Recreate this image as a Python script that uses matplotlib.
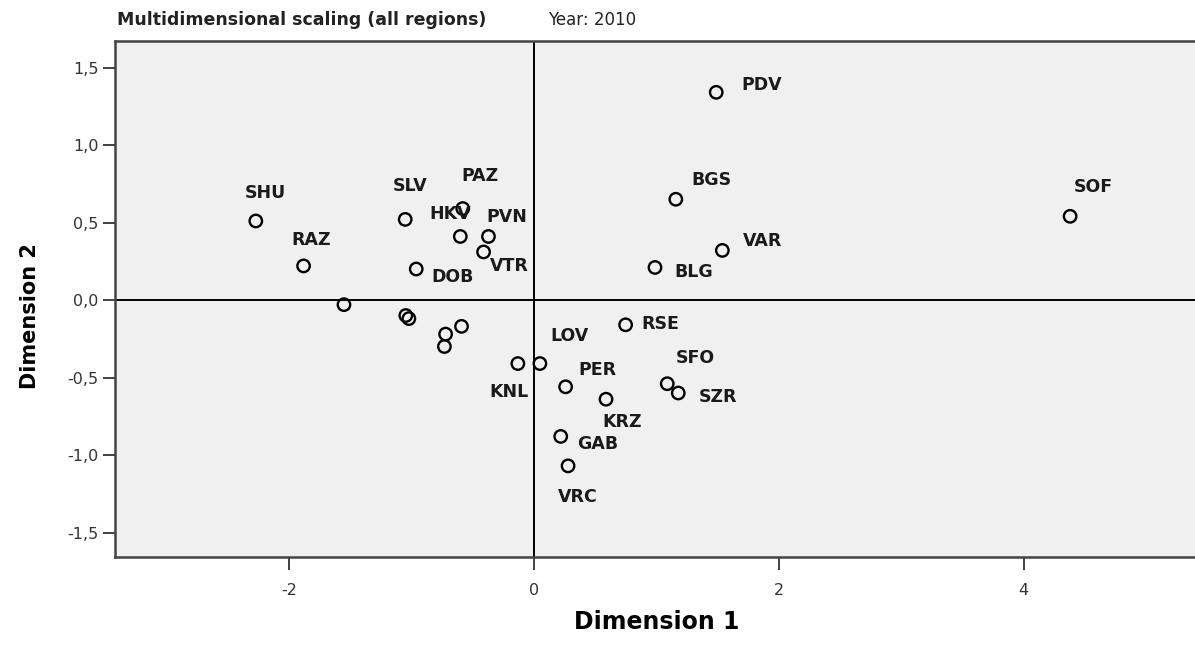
import matplotlib
matplotlib.use("Agg")
import matplotlib.pyplot as plt
from matplotlib.ticker import FuncFormatter

# MDS coordinates of the regions
regions = ["SHU", "RAZ", "", "SLV", "", "", "DOB", "PAZ", "HKV", "PVN", "VTR",
           "", "", "", "KNL", "LOV", "PER", "KRZ", "GAB", "VRC", "RSE",
           "SFO", "SZR", "BLG", "VAR", "BGS", "PDV", "SOF"]
dim1 = [-2.27, -1.88, -1.55, -1.05, -1.045, -1.02, -0.96, -0.58, -0.60, -0.37, -0.41,
        -0.72, -0.73, -0.59, -0.13, 0.05, 0.26, 0.59, 0.22, 0.28, 0.75,
        1.09, 1.18, 0.99, 1.54, 1.16, 1.49, 4.38]
dim2 = [0.51, 0.22, -0.03, 0.52, -0.10, -0.12, 0.20, 0.59, 0.41, 0.41, 0.31,
        -0.22, -0.30, -0.17, -0.41, -0.41, -0.56, -0.64, -0.88, -1.07, -0.16,
        -0.54, -0.60, 0.21, 0.32, 0.65, 1.34, 0.54]

xticks = [-2, 0, 2, 4]
yticks = [-1.5, -1.0, -0.5, 0.0, 0.5, 1.0, 1.5]

# label placement (pixels from the marker, y down)
offsets = {
    "SHU": (10, -28), "RAZ": (8, -26), "SLV": (5, -33), "PAZ": (17, -33),
    "PVN": (18, -19), "HKV": (-10, -22), "DOB": (36, 8), "VTR": (26, 14),
    "PDV": (45, -7), "BGS": (36, -19), "VAR": (40, -9), "BLG": (39, 5),
    "SOF": (23, -29), "RSE": (35, -1), "LOV": (30, -28), "PER": (32, -17),
    "KNL": (-9, 28), "SFO": (28, -26), "SZR": (40, 4), "KRZ": (16, 23),
    "GAB": (37, 8), "VRC": (10, 31),
}

W, H = 1195, 652
fig = plt.figure(figsize=(W / 100, H / 100), dpi=100)
ax = fig.add_axes([115 / W, 1 - 557 / H, (W - 115) / W, (557 - 41) / H])
ax.set_facecolor("#f0f0f0")

ax.axhline(0, color="black", lw=1.4, zorder=1)
ax.axvline(0, color="black", lw=1.4, zorder=1)

ax.scatter(dim1, dim2, s=80, facecolors="none", edgecolors="black",
           linewidths=1.7, zorder=3)

for name, x, y in zip(regions, dim1, dim2):
    if not name:
        continue
    dx, dy = offsets[name]
    ax.annotate(name, (x, y), xytext=(dx * 0.72, -dy * 0.72),
                textcoords="offset points", ha="center", va="center",
                fontsize=12.5, fontweight="bold", color="#1a1a1a",
                family="DejaVu Sans", zorder=4)

ax.set_xlim(-3.42, 5.40)
ax.set_ylim(-1.658, 1.671)
ax.set_xticks(xticks)
ax.set_yticks(yticks)
ax.xaxis.set_major_formatter(FuncFormatter(lambda v, p: "%d" % v))
ax.yaxis.set_major_formatter(FuncFormatter(lambda v, p: ("%.1f" % v).replace(".", ",")))
ax.tick_params(axis="both", direction="out", length=9, width=1.3,
               color="#333333", labelsize=11.5, labelcolor="#333333")
ax.tick_params(axis="x", pad=10)
ax.tick_params(axis="y", pad=3)

for side in ["left", "bottom", "top"]:
    ax.spines[side].set_color("#444444")
    ax.spines[side].set_linewidth(1.8)
ax.spines["right"].set_visible(False)

fig.text(117 / W, 1 - 20 / H, "Multidimensional scaling (all regions)",
         fontsize=12.5, fontweight="bold", color="#222222", va="center", ha="left")
fig.text(548 / W, 1 - 20 / H, "Year: 2010", fontsize=12, color="#222222",
         va="center", ha="left")
fig.text(657 / W, 1 - 622 / H, "Dimension 1", fontsize=17, fontweight="bold",
         ha="center", va="center")
fig.text(30 / W, 1 - 316 / H, "Dimension 2", fontsize=15, fontweight="bold",
         ha="center", va="center", rotation=90)

fig.savefig("out.png", dpi=100)
